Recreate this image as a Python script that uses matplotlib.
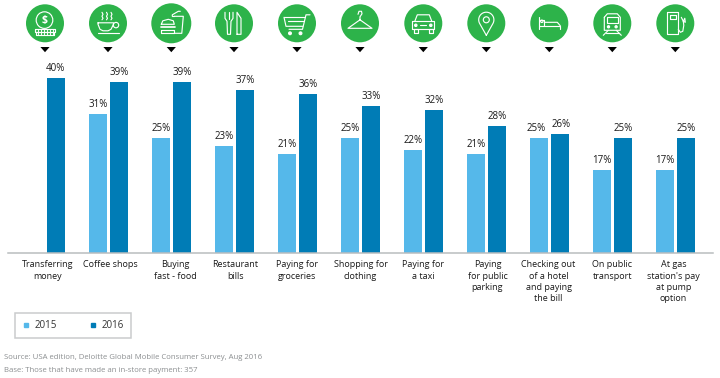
import numpy as np
import matplotlib
matplotlib.use("Agg")
import matplotlib.pyplot as plt
from matplotlib.lines import Line2D
from matplotlib.patches import Circle, Polygon
from matplotlib.transforms import ScaledTranslation

plt.rcParams['font.family'] = ['Open Sans', 'DejaVu Sans']

categories = ["Transferring\nmoney", "Coffee shops", "Buying\nfast - food", "Restaurant\nbills",
              "Paying for\ngroceries", "Shopping for\nclothing", "Paying for\na taxi",
              "Paying\nfor public\nparking", "Checking out\nof a hotel\nand paying\nthe bill",
              "On public\ntransport", "At gas\nstation's pay\nat pump\noption"]
values_2015 = [np.nan, 31, 25, 23, 21, 25, 22, 21, 25, 17, 17]
values_2016 = [40, 39, 39, 37, 36, 33, 32, 28, 26, 25, 25]
series_names = ["2015", "2016"]
source_lines = ["Source: USA edition, Deloitte Global Mobile Consumer Survey, Aug 2016",
                "Base: Those that have made an in-store payment: 357"]

LIGHT, DARK, GREEN = "#55b8ea", "#007cb6", "#2db34a"
W, H = 720, 378
fig = plt.figure(figsize=(W/100, H/100), dpi=100)
PX = 72/100  # points per pixel

# chart axes: group i centre at 45.5+63*i px, value v at 238-4*v px
L, R, B = 8, 713, 252.5
ax = fig.add_axes([L/W, 1-B/H, (R-L)/W, B/H])
floor = (238-B)/4
ax.set_xlim((L-45.5)/63, (R-45.5)/63)
ax.set_ylim(floor, 238/4)
for s in ("top", "left", "right"):
    ax.spines[s].set_visible(False)
ax.spines["bottom"].set_color("#b9bdbf")
ax.spines["bottom"].set_linewidth(1.1)
ax.patch.set_alpha(0)

x = np.arange(len(categories))
bw, off = 17.5/63, 10.4/63
v15, v16 = np.array(values_2015, float), np.array(values_2016, float)
ax.bar(x-off, v15-floor, bw, bottom=floor, color=LIGHT, zorder=2)
ax.bar(x+off, v16-floor, bw, bottom=floor, color=DARK, zorder=2)

nudge15 = {8: -3}
nudge16 = {8: 1.5}
for i in x:
    if not np.isnan(v15[i]):
        ax.annotate(f"{v15[i]:.0f}%", (i-off, v15[i]), xytext=(nudge15.get(i, 0)*PX, 9.3*PX),
                    textcoords="offset points", ha="center", va="center", fontsize=7.0, color="#1a1a1a")
    ax.annotate(f"{v16[i]:.0f}%", (i+off, v16[i]), xytext=(nudge16.get(i, 0)*PX, 9.3*PX),
                textcoords="offset points", ha="center", va="center", fontsize=7.0, color="#1a1a1a")

ax.set_yticks([])
ax.set_xticks(x)
ax.set_xticklabels(categories, fontsize=6.5, color="#1a1a1a", linespacing=1.33, ha="center", va="top")
ax.tick_params(axis="x", length=0, pad=5.6)
label_dx = [2, 1.5, 3.5, 1, 0, 0, 0, 1, -1, 0, -2]
for lab, dx in zip(ax.get_xticklabels(), label_dx):
    lab.set_transform(lab.get_transform() + ScaledTranslation(dx/100, 0, fig.dpi_scale_trans))

# legend
handles = [Line2D([], [], ls="", marker="s", ms=4*PX*1.1, color=c) for c in (LIGHT, DARK)]
leg = fig.legend(handles, series_names, ncol=2, loc="center left", bbox_to_anchor=(15/W, 1-325.5/H),
                 frameon=True, fancybox=False, edgecolor="#bdbfc1", fontsize=7.0, handlelength=0.9,
                 handletextpad=0.4, columnspacing=3.3, borderpad=0.7, borderaxespad=0, labelcolor="#333333")
leg.get_frame().set_linewidth(1.1)

# footer
fig.text(4.5/W, 1-357.8/H, source_lines[0], fontsize=5.58, color="#8c8f91", va="center")
fig.text(4.5/W, 1-370/H, source_lines[1], fontsize=5.58, color="#8c8f91", va="center")

# icon overlay in pixel coordinates
ov = fig.add_axes([0, 0, 1, 1])
ov.set_xlim(0, W); ov.set_ylim(H, 0); ov.axis("off"); ov.patch.set_alpha(0)
LW = 1.15*PX
class I:
    def __init__(s, cx, cy=23.3, r=19):
        s.cx, s.cy = cx, cy
        ov.add_patch(Circle((cx, cy), r, fc=GREEN, ec="none"))
        ov.add_patch(Polygon([(cx-4.6, 47), (cx+4.6, 47), (cx, 52.2)], fc="black", ec="none"))
    def line(s, pts, lw=LW):
        p = np.array(pts, float)
        ov.plot(p[:, 0]+s.cx, p[:, 1]+s.cy, color="white", lw=lw, solid_capstyle="round", solid_joinstyle="round")
    def circ(s, x, y, r, fill=False):
        ov.add_patch(Circle((s.cx+x, s.cy+y), r, fc="white" if fill else "none", ec="white", lw=LW))
    def rect(s, x0, y0, x1, y1):
        s.line([(x0, y0), (x1, y0), (x1, y1), (x0, y1), (x0, y0)])

# money
a = I(45); a.circ(-0.5, -3.2, 8.3)
ov.text(a.cx-0.5, a.cy-3.3, "$", color="white", fontsize=7.5, ha="center", va="center", fontweight="bold")
a.rect(-10, 5.5, 9.5, 8.8); a.rect(-9, 8.8, 8.5, 12)
for t in np.arange(-7, 9, 3): a.line([(t, 5.5), (t, 12)], lw=LW*0.8)
# coffee
a = I(108)
a.line([(-10, -0.5), (5.5, -0.5), (5.5, 1), (3, 6), (0, 7.5), (-5, 7.5), (-8, 6), (-10, 1), (-10, -0.5)])
a.circ(8, 1.8, 2.7); a.line([(-10.5, 9.8), (11, 9.8)])
for t in (-6, -1.5, 3):
    a.line([(t, -11), (t+1, -9), (t, -7), (t+1, -5), (t, -3.5)])
# fast food
a = I(171.3, r=20)
a.line([(-10, 1), (-8.5, -2.5), (-3, -4), (2, -2.5), (3, 1), (-10, 1)])
a.line([(-10.5, 4), (3.5, 4)], lw=LW*1.5); a.rect(-10, 7, 3, 10)
a.line([(3, -7), (12, -7), (10.5, 10), (3, 10)])
a.line([(1, -7), (1, -8.5), (7, -12), (9, -12)]); a.line([(1, -7), (3, -7)])
# cutlery
a = I(234)
a.line([(-9, -11), (-9, -5), (-7, -2), (-6.5, 11), (-3.5, 11), (-3, -2), (-1, -5), (-1, -11)])
a.line([(-5, -11), (-5, -4)])
a.line([(3, 11), (3, -11), (7, -5), (7, 11), (3, 11)])
# cart
a = I(297)
a.line([(13, -8.5), (9, -8.5), (5.5, 6), (-8, 6)])
a.line([(-13, -6), (7.5, -6)]); a.line([(-13, -6), (-11, 3), (5.8, 3)]); a.line([(-9, -2), (6.5, -2)])
a.circ(-7, 10, 1.4, True); a.circ(3.5, 10, 1.4, True)
# hanger
a = I(360)
a.line([(-2, -9), (-1, -12), (1.5, -12), (2, -9.5), (0, -6.5), (0, -3.5), (12, 5), (-12, 5), (0, -3.5)])
# car
a = I(423.3)
a.line([(-8.5, -2), (-6, -8.5), (6, -8.5), (8.5, -2)])
a.rect(-11, -2, 11, 6)
a.rect(-9.5, 6, -5.5, 9.5); a.rect(5.5, 6, 9.5, 9.5)
a.circ(-7.5, 2, 1.2, True); a.circ(7.5, 2, 1.2, True); a.line([(-3, 2), (3, 2)])
# pin
a = I(486.3)
th = np.radians(np.linspace(-30, 210, 40))
pts = [(7.6*np.cos(t), -3.5-7.6*np.sin(t)) for t in th]
a.line([(0, 12)]+pts+[(0, 12)]); a.circ(0, -3.5, 3)
# bed
a = I(549.3)
a.line([(-10, -6), (-10, 6)]); a.line([(-10, 2.5), (11, 2.5), (11, 6)])
a.line([(-5, -1), (8, -1), (11, 2.5)]); a.line([(-10, -3.5), (-5, -3.5), (-5, 2.5)])
a.circ(-7.5, -2, 1.2)
# train
a = I(612.3)
a.line([(-8, -6), (-5, -9.5), (5, -9.5), (8, -6), (8, 7), (-8, 7), (-8, -6)])
a.rect(-5.5, -6, 5.5, 0)
a.circ(-3.8, 3.5, 1.1, True); a.circ(3.8, 3.5, 1.1, True)
a.line([(-4, 7), (-9, 12)]); a.line([(4, 7), (9, 12)]); a.line([(-6.5, 10), (6.5, 10)])
# pump
a = I(675.3)
a.rect(-8, -11, 3, 11); a.rect(-5.5, -8, 0.5, -4)
a.line([(3, 6), (5, 9), (7.5, 8), (8.5, 2), (8, -2), (6, -6)]); a.line([(8, -2), (9.5, -5), (10, -1), (8, -2)])

fig.savefig("out.png", dpi=100)
